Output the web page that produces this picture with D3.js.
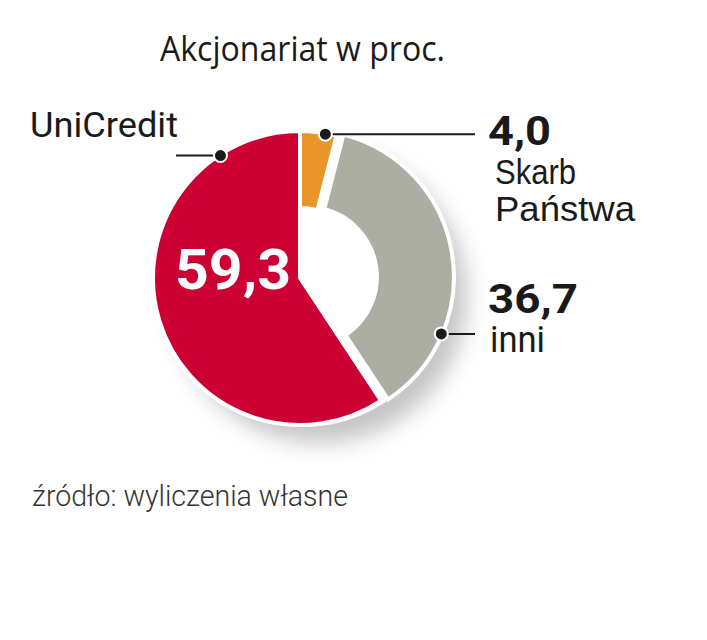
<!DOCTYPE html>
<html>
<head>
<meta charset="utf-8">
<script src="https://cdn.jsdelivr.net/npm/d3@7"></script>
<style>
  html, body { margin: 0; padding: 0; background: #fff; }
  svg { display: block; }
</style>
</head>
<body>
<svg id="chart" width="707" height="640"></svg>
<script>
// ---- data ----
const title = "Akcjonariat w proc.";
const source = "źródło: wyliczenia własne";
const categories = ["Skarb Państwa", "inni", "UniCredit"];
const values = [4.0, 36.7, 59.3];
const valueLabels = ["4,0", "36,7", "59,3"];
const colors = ["#e8962a", "#adaea2", "#cc0033"];

// ---- layout ----
const svg = d3.select("#chart");
const cx = 300, cy = 278, R = 147, r0 = 70;

const defs = svg.append("defs");
const f = defs.append("filter").attr("id", "blur")
  .attr("x", "-50%").attr("y", "-50%").attr("width", "200%").attr("height", "200%");
f.append("feGaussianBlur").attr("stdDeviation", 11);

const pie = d3.pie().sort(null).value(d => d)(values);

const g = svg.append("g").attr("transform", `translate(${cx},${cy})`);

// shadow
g.append("circle")
  .attr("cx", 20).attr("cy", 18).attr("r", R)
  .attr("fill", "#959595").attr("opacity", 0.55)
  .attr("filter", "url(#blur)");
// white base under the whole pie
g.append("circle").attr("cx", 3).attr("cy", 0).attr("r", R + 2).attr("fill", "#fff");

// explode offsets (gray slice is pushed slightly outward)
const explode = [0, 7, 0];
const inner = [r0, r0, 0];

g.selectAll("path.slice").data(pie).enter().append("path")
  .attr("class", "slice")
  .attr("transform", (d, i) => {
    const a = (d.startAngle + d.endAngle) / 2;
    return `translate(${Math.sin(a) * explode[i]},${-Math.cos(a) * explode[i]})`;
  })
  .attr("d", (d, i) => d3.arc().innerRadius(inner[i]).outerRadius(R)(d))
  .attr("fill", (d, i) => colors[i])
  .attr("stroke", "#fff").attr("stroke-width", 4).attr("stroke-linejoin", "miter");

// callouts: angle (deg from top, clockwise), slice index, line end x
const callouts = [
  { i: 0, angle: 10, x2: 475 },
  { i: 1, angle: 113, x2: 475 },
  { i: 2, angle: 327, x2: 176 }
];
callouts.forEach(c => {
  const a = c.angle * Math.PI / 180;
  const d = pie[c.i];
  const m = (d.startAngle + d.endAngle) / 2;
  const ox = Math.sin(m) * explode[c.i], oy = -Math.cos(m) * explode[c.i];
  const px = ox + Math.sin(a) * (R - 1), py = oy - Math.cos(a) * (R - 1);
  g.append("line")
    .attr("x1", px).attr("y1", py).attr("x2", c.x2 - cx).attr("y2", py)
    .attr("stroke", "#1a1a1a").attr("stroke-width", 2);
  g.append("circle").attr("cx", px).attr("cy", py).attr("r", 6.5)
    .attr("fill", "#1a1a1a").attr("stroke", "#fff").attr("stroke-width", 2);
});

// ---- texts ----
const FONT = "Roboto, 'DejaVu Sans', sans-serif";
function txt(s, x, y, size, weight, fill, len, family) {
  const t = svg.append("text")
    .attr("x", x).attr("y", y)
    .attr("font-family", family || FONT)
    .attr("font-size", size).attr("font-weight", weight)
    .attr("fill", fill).text(s);
  if (len) t.attr("textLength", len).attr("lengthAdjust", "spacingAndGlyphs");
  return t;
}

txt(title, 160, 61, 34, 400, "#1a1a1a", 285, "'Open Sans', Roboto, sans-serif");
txt(categories[2], 30, 137, 35, 400, "#1a1a1a", 148);
txt(valueLabels[2], 175, 289, 55, 700, "#ffffff", 116);
txt(valueLabels[0], 488, 145, 41, 700, "#1a1a1a", 63);

// two-line label "Skarb / Państwa"
const words = categories[0].split(" ");
const lens = [81, 140];
const ml = svg.append("text")
  .attr("font-family", "'Liberation Sans', Arial, sans-serif")
  .attr("font-size", 35).attr("fill", "#1a1a1a");
words.forEach((w, k) => {
  ml.append("tspan").attr("x", 495).attr("y", 184 + k * 37)
    .attr("textLength", lens[k]).attr("lengthAdjust", "spacingAndGlyphs").text(w);
});

txt(valueLabels[1], 488, 313, 40, 700, "#1a1a1a", 90);
txt(categories[1], 490, 352, 36, 400, "#1a1a1a", 55);
txt(source, 32, 506, 29, 300, "#333333", 316);
</script>
</body>
</html>
